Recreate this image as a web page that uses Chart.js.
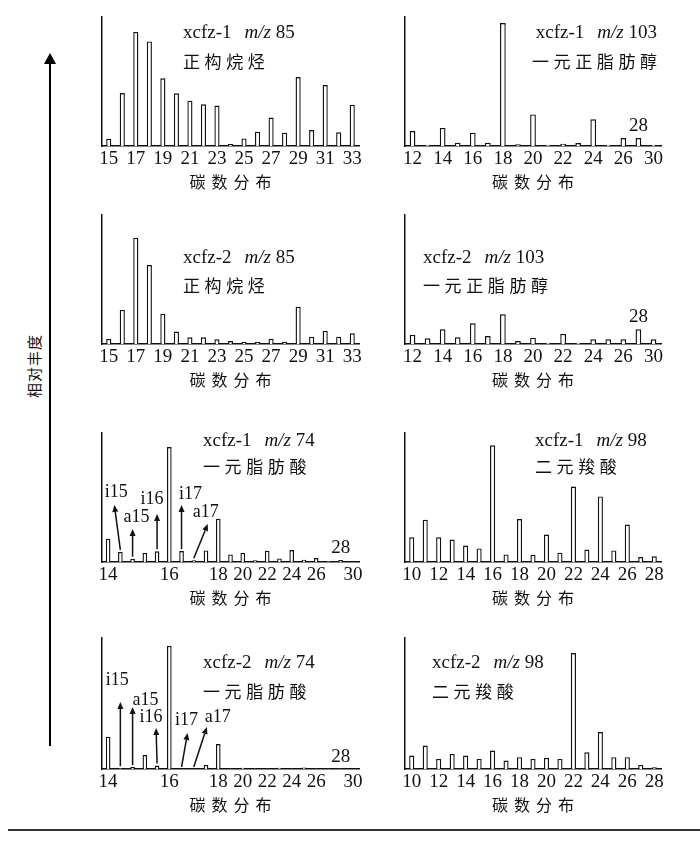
<!DOCTYPE html>
<html><head><meta charset="utf-8">
<script src="https://cdn.jsdelivr.net/npm/chart.js@4"></script>
<style>
body{margin:0;background:#fff;width:700px;height:858px;position:relative;overflow:hidden;}
canvas{position:absolute;}
#arrow{position:absolute;left:49px;top:62px;width:1.6px;height:684px;background:#000;}
#arrowhead{position:absolute;left:43.5px;top:53px;width:0;height:0;border-left:6.5px solid transparent;border-right:6.5px solid transparent;border-bottom:11px solid #000;}
#ylabel{position:absolute;left:33px;top:366px;transform:translate(-50%,-50%) rotate(-90deg);font:15px "Noto Sans CJK SC";letter-spacing:1px;white-space:nowrap;color:#111;}
#rule{position:absolute;left:8px;top:829px;width:692px;height:1.5px;background:#333;}
</style></head><body>
<div id="arrowhead"></div><div id="arrow"></div>
<div id="ylabel">相对丰度</div>
<div id="rule"></div>
<canvas id="c1"></canvas><canvas id="c2"></canvas>
<canvas id="c3"></canvas><canvas id="c4"></canvas>
<canvas id="c5"></canvas><canvas id="c6"></canvas>
<canvas id="c7"></canvas><canvas id="c8"></canvas>
<script>
// ---------- data ----------
const cats85 = ['15','16','17','18','19','20','21','22','23','24','25','26','27','28','29','30','31','32','33'];
const ticks85 = ['15','17','19','21','23','25','27','29','31','33'];
const xcfz1_85 = [5.7,41.1,88.4,81.1,52.5,40.8,35.1,32.3,31.3,1.6,5.9,11.1,22.0,10.3,53.5,12.4,47.3,10.6,32.0];
const xcfz2_85 = [3.9,26.4,82.4,61.2,23.3,9.6,5.2,5.2,3.6,2.3,1.6,1.6,4.1,1.6,28.9,5.7,10.1,5.7,8.3];

const cats103 = ['12','13','14','15','16','17','18','19','20','21','22','23','24','25','26','28','30'];
const ticks103 = ['12','14','16','18','20','22','24','26','30'];
const xcfz1_103 = [11.6,1.0,14.0,2.6,10.3,2.6,95.3,1.3,24.5,1.0,1.8,2.3,20.7,1.0,6.2,6.2,1.0];
const xcfz2_103 = [7.0,4.4,11.4,5.2,16.0,6.2,23.0,2.3,4.9,1.0,7.8,1.0,3.6,3.6,3.6,11.4,3.6];

const cats74 = ['14','i15','a15','15','i16','16','i17','a17','17','18','19','20','21','22','23','24','25','26','27','28','30'];
const ticks74 = ['14','16','18','20','22','24','26','30'];
const xcfz1_74 = [18.1,7.8,2.6,7.0,8.3,89.1,8.5,1.3,9.0,33.6,5.9,7.2,1.3,8.8,2.8,9.3,1.8,3.1,0.8,1.6,0];
const xcfz2_74 = [24.7,0.6,1.5,10.7,2.6,94.1,0,0,3.1,19.1,0.3,1.0,0.3,0.3,1.0,0.3,1.2,0.3,0.3,0.3,0];

const cats98 = ['10','11','12','13','14','15','16','17','18','19','20','21','22','23','24','25','26','27','28'];
const ticks98 = ['10','12','14','16','18','20','22','24','26','28'];
const xcfz1_98 = [19.2,32.8,19.2,17.4,12.8,10.5,90.5,5.9,33.3,5.6,21.3,7.2,58.5,9.7,50.8,9.0,29.0,3.8,4.4];
const xcfz2_98 = [10.3,17.9,7.7,11.5,10.3,7.7,14.1,6.4,9.0,7.7,8.5,7.7,88.5,12.8,28.2,9.0,9.0,3.1,1.3];

const branched74 = ['i15','a15','i16','i17','a17'];
const markedPeak = '28';
const axisTitle = '碳数分布';

// ---------- layout (positions only) ----------
const SERIF = '"Liberation Serif","Times New Roman",serif';
const CJK = '"Noto Sans CJK SC","Noto Sans",sans-serif';
const arrows5 = {i15:{tx:-6,ty:-57,lx:-4,ly:-70}, a15:{tx:0,ty:-33,lx:4,ly:-45}, i16:{tx:0,ty:-48,lx:-5,ly:-63}, i17:{tx:0,ty:-57,lx:9,ly:-68}, a17:{tx:14,ty:-38,lx:12,ly:-50}};
const arrows7 = {i15:{tx:0,ty:-67,lx:-3,ly:-89}, a15:{tx:0,ty:-62,lx:13,ly:-69}, i16:{tx:-1,ty:-41,lx:-6,ly:-52}, i17:{tx:6,ty:-36,lx:5,ly:-49}, a17:{tx:13,ty:-42,lx:24,ly:-52}};

function spacedWidth(ctx, text, adv){
  const chars=[...text];
  return adv*(chars.length-1) + ctx.measureText(chars[chars.length-1]).width;
}
function drawSpaced(ctx, text, x, y, adv, align){
  const chars=[...text];
  const total = spacedWidth(ctx,text,adv);
  let sx = align==='center' ? x-total/2 : align==='right' ? x-total : x;
  ctx.textAlign='left';
  chars.forEach((c,i)=>ctx.fillText(c, sx+i*adv, y));
}

const decoPlugin = {
  id:'deco',
  afterDraw(chart){
    const p = chart.options.plugins.deco;
    const {ctx, chartArea:a, scales:{x,y}} = chart;
    ctx.save();
    ctx.fillStyle='#111'; ctx.strokeStyle='#111';
    ctx.textBaseline='middle';
    // title line 1
    const f1='19px '+SERIF, fi='italic 19px '+SERIF;
    ctx.font=f1; const w1=ctx.measureText(p.sample).width;
    const gap=13;
    ctx.font=fi; const w2=ctx.measureText('m/z').width;
    ctx.font=f1; const w3=ctx.measureText(' '+p.mz).width;
    const total=w1+gap+w2+w3;
    let tx = p.align==='right' ? a.right+p.dx-total : a.left+p.dx;
    const ty=a.top+p.dy1;
    ctx.textAlign='left';
    ctx.font=f1; ctx.fillText(p.sample, tx, ty); tx+=w1+gap;
    ctx.font=fi; ctx.fillText('m/z', tx, ty); tx+=w2;
    ctx.font=f1; ctx.fillText(' '+p.mz, tx, ty);
    // title line 2 (compound class)
    ctx.font='17px '+CJK;
    if(p.align==='right') drawSpaced(ctx, p.cn, a.right+p.dx, a.top+p.dy2, 21.6, 'right');
    else drawSpaced(ctx, p.cn, a.left+p.dx, a.top+p.dy2, 21.6, 'left');
    // axis title
    ctx.font='16px '+CJK;
    drawSpaced(ctx, axisTitle, (a.left+a.right)/2, a.bottom+36, 22, 'center');
    // marked peak
    const labels = chart.data.labels, vals = chart.data.datasets[0].data;
    if(p.mark){
      const i=labels.indexOf(markedPeak);
      const bx=x.getPixelForValue(i), by=y.getPixelForValue(vals[i]);
      ctx.font='19px '+SERIF; ctx.textAlign='center';
      ctx.fillText(markedPeak, bx, by-12);
    }
    // branched acids arrows
    if(p.arrows){
      ctx.lineWidth=1.5;
      branched74.forEach(n=>{
        const g=p.arrows[n]; const i=labels.indexOf(n);
        const bx=x.getPixelForValue(i), by=y.getPixelForValue(vals[i]);
        const base=a.bottom;
        const sx=bx, sy=Math.min(by-2, base-1);
        const ex=bx+g.tx, ey=base+g.ty;
        const ang=Math.atan2(ey-sy, ex-sx);
        const hl=7, hw=3;
        const lx=ex-hl*Math.cos(ang), ly=ey-hl*Math.sin(ang);
        ctx.beginPath(); ctx.moveTo(sx,sy); ctx.lineTo(lx,ly); ctx.stroke();
        ctx.beginPath(); ctx.moveTo(ex,ey);
        ctx.lineTo(lx+hw*Math.sin(ang), ly-hw*Math.cos(ang));
        ctx.lineTo(lx-hw*Math.sin(ang), ly+hw*Math.cos(ang));
        ctx.closePath(); ctx.fill();
        ctx.font='18px '+SERIF; ctx.textAlign='center';
        ctx.fillText(n, bx+g.lx, base+g.ly);
      });
    }
    ctx.restore();
  }
};

function makePanel(id, left, top, cats, ticks, vals, deco, pad){
  const cv=document.getElementById(id);
  cv.width=300; cv.height=215;
  cv.style.left=left+'px'; cv.style.top=top+'px';
  cv.style.width='300px'; cv.style.height='215px';
  new Chart(cv,{
    type:'bar',
    data:{labels:cats, datasets:[{data:vals, backgroundColor:'#fff', borderColor:'#111', borderWidth:1.4, barPercentage:0.38, categoryPercentage:1}]},
    options:{
      responsive:false, animation:false, devicePixelRatio:1,
      layout:{padding:pad},
      plugins:{legend:{display:false}, tooltip:{enabled:false}, deco:deco},
      scales:{
        x:{offset:true, grid:{display:false, drawTicks:false}, border:{display:true,color:'#111',width:1.5},
           ticks:{autoSkip:false, maxRotation:0, padding:2, color:'#111', font:{family:SERIF,size:19},
             callback(v){const l=this.getLabelForValue(v); return ticks.includes(l)?l:'';}},
           afterFit(s){s.height=40;}},
        y:{min:0, max:100, grid:{display:false, drawTicks:false}, ticks:{display:false},
           border:{display:true,color:'#111',width:1.5}, afterFit(s){s.width=0;}}
      }
    },
    plugins:[decoPlugin]
  });
}

const L=80, R=385;
const padL = (t,b)=>({left:22,right:21,top:t,bottom:b});
const padR = (t,b)=>({left:20,right:24,top:t,bottom:b});

makePanel('c1',L,0,cats85,ticks85,xcfz1_85,{sample:'xcfz-1',mz:'85',cn:'正构烷烃',align:'left',dx:81,dy1:16,dy2:45},padL(17,29));
makePanel('c2',R,0,cats103,ticks103,xcfz1_103,{sample:'xcfz-1',mz:'103',cn:'一元正脂肪醇',align:'right',dx:-4,dy1:16,dy2:45,mark:true},padR(17,29));
makePanel('c3',L,198,cats85,ticks85,xcfz2_85,{sample:'xcfz-2',mz:'85',cn:'正构烷烃',align:'left',dx:81,dy1:43,dy2:71},padL(17,29));
makePanel('c4',R,198,cats103,ticks103,xcfz2_103,{sample:'xcfz-2',mz:'103',cn:'一元正脂肪醇',align:'left',dx:18,dy1:43,dy2:71,mark:true},padR(17,29));
makePanel('c5',L,415,cats74,ticks74,xcfz1_74,{sample:'xcfz-1',mz:'74',cn:'一元脂肪酸',align:'left',dx:101,dy1:8,dy2:34,mark:true,arrows:arrows5},padL(18,28));
makePanel('c6',R,415,cats98,ticks98,xcfz1_98,{sample:'xcfz-1',mz:'98',cn:'二元羧酸',align:'left',dx:130,dy1:8,dy2:34},padR(18,28));
makePanel('c7',L,620,cats74,ticks74,xcfz2_74,{sample:'xcfz-2',mz:'74',cn:'一元脂肪酸',align:'left',dx:101,dy1:25,dy2:54,mark:true,arrows:arrows7},padL(18,26));
makePanel('c8',R,620,cats98,ticks98,xcfz2_98,{sample:'xcfz-2',mz:'98',cn:'二元羧酸',align:'left',dx:27,dy1:25,dy2:54},padR(18,26));
</script>
</body></html>
